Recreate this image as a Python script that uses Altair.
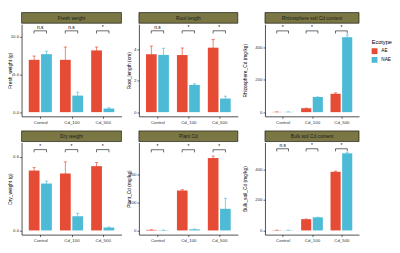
import altair as alt
import pandas as pd

treatments = ["Control", "Cd_100", "Cd_500"]
ecotypes = ["AE", "NAE"]
colors = ["#E64B35", "#4DBBD5"]

# panel strip titles and y-axis titles
strip_titles = ["Fresh weight", "Root length", "Rhizosphere soil Cd content",
                "Dry weight", "Plant Cd", "Bulk soil Cd content"]
y_titles = ["Fresh_weight (g)", "Root_length (cm)", "Rhizosphere_Cd (mg/kg)",
            "Dry_weight (g)", "Plant_Cd (mg/kg)", "Bulk_soil_Cd (mg/kg)"]

# means and standard errors (per treatment) for each ecotype
ae_mean = [
    [6.95, 6.95, 8.2],
    [3.70, 3.65, 4.12],
    [1.5, 24, 113],
    [0.489, 0.465, 0.525],
    [2, 144, 261],
    [1.5, 74, 385],
]
ae_se = [
    [0.5, 1.7, 0.45],
    [0.52, 0.45, 0.52],
    [0.3, 1, 6],
    [0.024, 0.095, 0.03],
    [0.5, 3, 7],
    [0.3, 1, 4],
]
nae_mean = [
    [7.7, 2.2, 0.48],
    [3.66, 1.74, 0.87],
    [1.5, 93, 461],
    [0.383, 0.116, 0.024],
    [1, 4, 78],
    [1.5, 86, 506],
]
nae_se = [
    [0.4, 0.45, 0.1],
    [0.42, 0.07, 0.15],
    [0.3, 1, 14],
    [0.02, 0.024, 0.004],
    [0.3, 1, 38],
    [0.3, 1, 4],
]
# significance labels and bracket heights
signif = [
    ["n.s", "n.s", "*"],
    ["n.s", "*", "*"],
    ["*", "*", "*"],
    ["*", "*", "*"],
    ["*", "*", "*"],
    ["n.s", "*", "*"],
]
bracket_y = [10.8, 5.2, 500, 0.66, 291, 536]
# y scale tops and tick values
y_top = [11.68, 5.62, 541, 0.718, 317, 577]
y_ticks = [
    [0, 2.5, 5, 7.5, 10],
    [0, 1, 2, 3, 4, 5],
    [0, 100, 200, 300, 400, 500],
    [0, 0.2, 0.4, 0.6],
    [0, 100, 200],
    [0, 100, 200, 300, 400, 500],
]
y_formats = [".1f", "d", "d", ".1f", "d", "d"]

WIDTHS = [103, 102, 97]
EXTENTS = [8, 7, 17]
HEIGHT = 95
FONT = "Liberation Sans"

label_expr = "[" + ",".join("'%s'" % t for t in treatments) + "][datum.value - 1]"


def panel(k, col):
    width = WIDTHS[col]
    rows = []
    for i, t in enumerate(treatments):
        rows.append({"pos": i + 1, "eco": "AE", "mean": ae_mean[k][i], "se": ae_se[k][i]})
        rows.append({"pos": i + 1, "eco": "NAE", "mean": nae_mean[k][i], "se": nae_se[k][i]})
    df = pd.DataFrame(rows)
    top = y_top[k]
    ydom = [-top * 0.0476, top]

    xsc = alt.Scale(domain=[0.4, 3.6], nice=False, zero=False)
    ysc = alt.Scale(domain=ydom, nice=False, zero=False)
    xax = alt.Axis(values=[1, 2, 3], labelExpr=label_expr, title=None, grid=False,
                   labelOverlap=False)
    yax = alt.Axis(values=y_ticks[k], format=y_formats[k], title=y_titles[k], grid=False,
                   labelOverlap=False, minExtent=EXTENTS[col], maxExtent=EXTENTS[col])
    color = alt.Color("eco:N", scale=alt.Scale(domain=ecotypes, range=colors),
                      legend=alt.Legend(title="Ecotype"))

    base = alt.Chart(df).transform_calculate(
        x0="datum.pos + (datum.eco == 'AE' ? -0.37 : 0.025)",
        x1="datum.pos + (datum.eco == 'AE' ? -0.025 : 0.37)",
        xc="datum.pos + (datum.eco == 'AE' ? -0.1975 : 0.1975)",
        cl="datum.pos + (datum.eco == 'AE' ? -0.1975 : 0.1975) - 0.05",
        cr="datum.pos + (datum.eco == 'AE' ? -0.1975 : 0.1975) + 0.05",
        lo="datum.mean - datum.se",
        hi="datum.mean + datum.se",
    )
    bars = base.mark_bar().encode(
        x=alt.X("x0:Q", scale=xsc, axis=xax),
        x2="x1:Q",
        y=alt.Y("mean:Q", scale=ysc, axis=yax),
        y2=alt.datum(0),
        color=color,
    )
    err = base.mark_rule(strokeWidth=0.7).encode(
        x="xc:Q", y="lo:Q", y2="hi:Q", color=color)
    cap = base.mark_rule(strokeWidth=0.7).encode(
        x="cl:Q", x2="cr:Q", y="hi:Q", color=color)

    bdf = pd.DataFrame({"pos": [1, 2, 3], "lab": signif[k],
                        "by": [bracket_y[k]] * 3})
    bbase = alt.Chart(bdf).transform_calculate(
        bl="datum.pos - 0.2", br="datum.pos + 0.2",
        bt="datum.by - %f" % (top * 0.03),
        ty="datum.by + %f" % (top * 0.045),
    )
    hline = bbase.mark_rule(color="black", strokeWidth=0.6).encode(
        x="bl:Q", x2="br:Q", y="by:Q")
    ltip = bbase.mark_rule(color="black", strokeWidth=0.6).encode(
        x="bl:Q", y="by:Q", y2="bt:Q")
    rtip = bbase.mark_rule(color="black", strokeWidth=0.6).encode(
        x="br:Q", y="by:Q", y2="bt:Q")
    txt = bbase.mark_text(fontSize=5, font=FONT, baseline="middle", color="black").encode(
        x="pos:Q", y="ty:Q", text="lab:N")

    sdf = pd.DataFrame({"title": [strip_titles[k]]})
    strip = alt.Chart(sdf).mark_rect(fill="#7B7744", stroke="black", strokeWidth=0.6).encode(
        x=alt.value(0), x2=alt.value(width), y=alt.value(-12), y2=alt.value(-1))
    stext = alt.Chart(sdf).mark_text(fontSize=5, font=FONT, color="#1a1a1a", baseline="middle").encode(
        x=alt.value(width / 2), y=alt.value(-6.5), text="title:N")

    return alt.layer(bars, err, cap, hline, ltip, rtip, txt, strip, stext).properties(
        width=width, height=HEIGHT)


row1 = alt.hconcat(*[panel(k, k) for k in range(3)], spacing=4)
row2 = alt.hconcat(*[panel(k + 3, k) for k in range(3)], spacing=4)

chart = alt.vconcat(row1, row2, spacing=6).configure(
    padding=0, font=FONT
).configure_view(stroke=None).configure_axis(
    labelFontSize=4.5, labelColor="#333333", titleFontSize=5, titleFontWeight="normal",
    titleColor="black", domainColor="black", domainWidth=0.7, tickColor="black",
    tickSize=2, tickWidth=0.6, labelPadding=1, titlePadding=1, labelFont=FONT, titleFont=FONT,
).configure_legend(
    orient="none", legendX=361, legendY=15, titleFontSize=5.8, titleFontWeight="normal",
    labelFontSize=4.8, symbolType="square", symbolSize=36, symbolStrokeWidth=0,
    rowPadding=3, titlePadding=4, labelFont=FONT, titleFont=FONT,
)

chart.save("out.html", embed_options={"renderer": "svg", "actions": False})
